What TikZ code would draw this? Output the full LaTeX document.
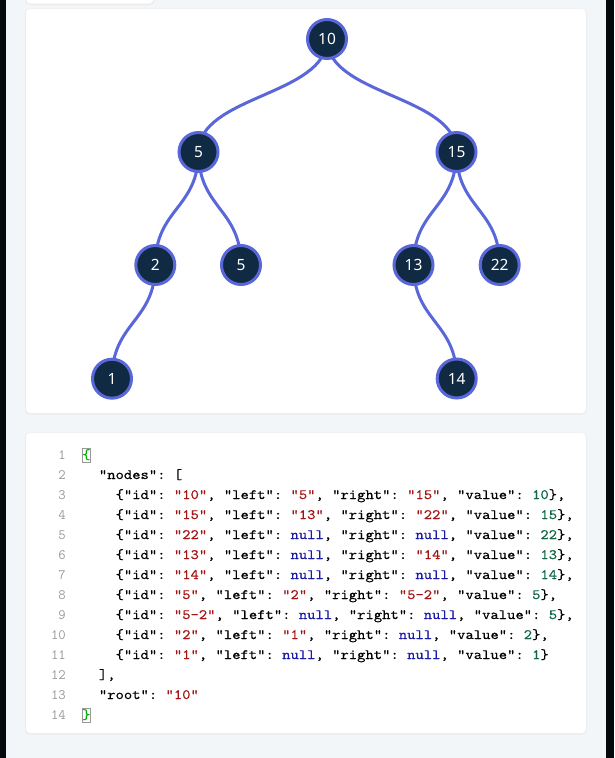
\documentclass[tikz,border=0pt]{standalone}
\usepackage{fontspec}
\setmainfont{Noto Sans}
\newfontfamily\codefont{lmmono10-regular.otf}[RawFeature={embolden=0.3}]
\usetikzlibrary{calc}
\frenchspacing
\definecolor{pagebg}{HTML}{F3F6F9}
\definecolor{darkstrip}{HTML}{05090D}
\definecolor{nodefill}{HTML}{102A43}
\definecolor{edgecol}{HTML}{5A67D8}
\definecolor{jsred}{HTML}{A31515}
\definecolor{jsblue}{HTML}{1A1AA6}
\definecolor{jsnum}{HTML}{116644}
\definecolor{lnum}{HTML}{999999}
\definecolor{bracegreen}{HTML}{00B000}
\newcommand\jstr[1]{\textcolor{jsred}{"#1"}}
\newcommand\jnul{\textcolor{jsblue}{null}}
\newcommand\jnum[1]{\textcolor{jsnum}{#1}}
\newcommand\codesize{\fontsize{14.3}{20}\codefont\frenchspacing}
\newcommand\numsize{\fontsize{14.3}{20}\ttfamily}
\newlength\codecw
\pgfdeclarelayer{bg}
\pgfdeclarelayer{edges}
\pgfsetlayers{bg,edges,main}
\tikzset{
  card/.style={fill=white, rounded corners=4pt},
  cardshadow/.style={fill=black!8, rounded corners=5pt},
  tnode/.style={circle, fill=nodefill, draw=edgecol, line width=3pt, minimum size=39pt, inner sep=0pt,
    text=white, font=\fontsize{15.5}{18}\selectfont},
  edge/.style={draw=edgecol, line width=3pt},
  codeline/.style={anchor=base west, inner sep=0pt, font=\codesize},
  lineno/.style={anchor=base east, inner sep=0pt, text=lnum, font=\numsize},
}
\newcommand\treeedge[2]{\draw[edge] (#1.center) .. controls ($(#1.center)!0.5!(#1.center|-#2.center)$) and ($(#2.center)!0.5!(#2.center|-#1.center)$) .. (#2.center);}
\newcommand\cl[1]{\scalebox{\codexs}[1]{#1}}
\begin{document}
\settowidth\codecw{\codesize 0123456789}
\pgfmathsetmacro\codexs{83.3/\codecw}
\begin{tikzpicture}[x=1pt,y=-1pt]
\useasboundingbox (0,0) rectangle (614,758);
\begin{pgfonlayer}{bg}
\fill[pagebg] (0,0) rectangle (614,758);
\fill[darkstrip] (0,0) rectangle (6,758);
\fill[darkstrip] (606,0) rectangle (614,758);
% top small card
\fill[cardshadow] (25,-10) rectangle (154.5,5);
\fill[card] (26,-10) rectangle (153.5,3.5);
% tree card
\fill[cardshadow] (25,8.5) rectangle (587,414.5);
\fill[card] (26,9) rectangle (586,413);
% code card
\fill[cardshadow] (25,432.5) rectangle (587,734.5);
\fill[card] (26,433) rectangle (586,733);
\end{pgfonlayer}
% tree nodes
\node[tnode] (n10) at (327,39) {10};
\node[tnode] (n5) at (198.5,152) {5};
\node[tnode] (n15) at (456.5,152) {15};
\node[tnode] (n2) at (155.3,265) {2};
\node[tnode] (n52) at (241,265) {5};
\node[tnode] (n13) at (413.5,265) {13};
\node[tnode] (n22) at (499.7,265) {22};
\node[tnode] (n1) at (112,378.7) {1};
\node[tnode] (n14) at (456.7,378.5) {14};
\begin{pgfonlayer}{edges}
\treeedge{n10}{n5}
\treeedge{n10}{n15}
\treeedge{n5}{n2}
\treeedge{n5}{n52}
\treeedge{n15}{n13}
\treeedge{n15}{n22}
\treeedge{n2}{n1}
\treeedge{n13}{n14}
\end{pgfonlayer}
% code
\foreach \i in {1,...,14} {
  \node[lineno] (ln\i) at (66,{459+20*(\i-1)}) {\i};
}
\node[draw=lnum, line width=0.6pt, minimum width=8.5pt, minimum height=14pt, inner sep=0pt] (bx1) at (86.2,455) {};
\node[draw=lnum, line width=0.6pt, minimum width=8.5pt, minimum height=14pt, inner sep=0pt] (bx14) at (86.2,715) {};
\node[codeline, text=bracegreen] (c1) at (82,459) {\cl{\{}};
\node[codeline] (c2) at (98.7,479) {\cl{"nodes": [}};
\node[codeline] (c3) at (115.4,499) {\cl{\{"id": \jstr{10}, "left": \jstr{5}, "right": \jstr{15}, "value": \jnum{10}\},}};
\node[codeline] (c4) at (115.4,519) {\cl{\{"id": \jstr{15}, "left": \jstr{13}, "right": \jstr{22}, "value": \jnum{15}\},}};
\node[codeline] (c5) at (115.4,539) {\cl{\{"id": \jstr{22}, "left": \jnul, "right": \jnul, "value": \jnum{22}\},}};
\node[codeline] (c6) at (115.4,559) {\cl{\{"id": \jstr{13}, "left": \jnul, "right": \jstr{14}, "value": \jnum{13}\},}};
\node[codeline] (c7) at (115.4,579) {\cl{\{"id": \jstr{14}, "left": \jnul, "right": \jnul, "value": \jnum{14}\},}};
\node[codeline] (c8) at (115.4,599) {\cl{\{"id": \jstr{5}, "left": \jstr{2}, "right": \jstr{5-2}, "value": \jnum{5}\},}};
\node[codeline] (c9) at (115.4,619) {\cl{\{"id": \jstr{5-2}, "left": \jnul, "right": \jnul, "value": \jnum{5}\},}};
\node[codeline] (c10) at (115.4,639) {\cl{\{"id": \jstr{2}, "left": \jstr{1}, "right": \jnul, "value": \jnum{2}\},}};
\node[codeline] (c11) at (115.4,659) {\cl{\{"id": \jstr{1}, "left": \jnul, "right": \jnul, "value": \jnum{1}\}}};
\node[codeline] (c12) at (98.7,679) {\cl{],}};
\node[codeline] (c13) at (98.7,699) {\cl{"root": \jstr{10}}};
\node[codeline, text=bracegreen] (c14) at (82,719) {\cl{\}}};
\end{tikzpicture}
\end{document}
